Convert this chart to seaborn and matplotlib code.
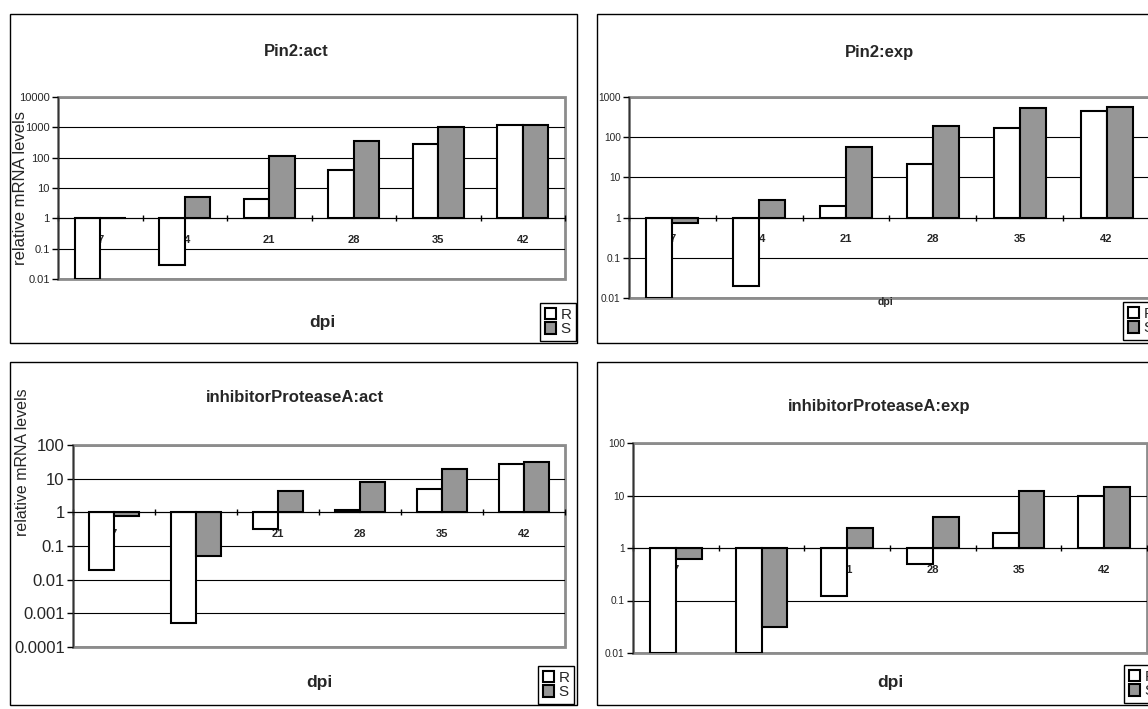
import numpy as np
import pandas as pd
import matplotlib
matplotlib.use("Agg")
import matplotlib.pyplot as plt
import matplotlib.ticker as mticker
from matplotlib.patches import Rectangle, Patch
import seaborn as sns

# data (relative mRNA levels, log scale, baseline 1)
dpi_days = [7, 14, 21, 28, 35, 42]
lines = ["R", "S"]

pin2_act_R = [0.01, 0.03, 4.5, 38, 280, 1150]
pin2_act_S = [1, 5, 110, 360, 1050, 1150]

pin2_exp_R = [0.01, 0.02, 1.9, 21, 170, 450]
pin2_exp_S = [0.75, 2.8, 56, 187, 525, 550]

ipa_act_R = [0.02, 0.0005, 0.32, 1.15, 4.9, 27]
ipa_act_S = [0.8, 0.052, 4.4, 7.8, 19, 31]

ipa_exp_R = [0.01, 0.01, 0.12, 0.49, 1.9, 10]
ipa_exp_S = [0.61, 0.031, 2.4, 3.85, 12, 14.5]

titles = ["Pin2:act", "Pin2:exp", "inhibitorProteaseA:act", "inhibitorProteaseA:exp"]
palette = {"R": "white", "S": "#969696"}

W, H = 1148, 709


def fx(x):
    return x / W


def fy(y):
    return 1 - y / H


sns.set_style("white")
plt.rcParams["font.family"] = ["Liberation Sans", "DejaVu Sans"]

fig = plt.figure(figsize=(W / 100, H / 100), dpi=100)

# pixel layout of each chart (box, plot area, text spots)
panels = [
    dict(title=titles[0], R=pin2_act_R, S=pin2_act_S, box=(10, 14, 577, 343),
         plot=(58, 97, 565, 279), ylim=(0.01, 1e4), ytick_fs=8,
         title_xy=(296, 52), xlab=(322, 323, 12.5), legend_xy=(540, 303),
         ylab=(21, 188, 12)),
    dict(title=titles[1], R=pin2_exp_R, S=pin2_exp_S, box=(597, 14, 1166, 343),
         plot=(629, 97, 1150, 298), ylim=(0.01, 1e3), ytick_fs=7.3,
         title_xy=(879, 52), xlab=(885, 302, 7.5), legend_xy=(1123, 302),
         ylab=None),
    dict(title=titles[2], R=ipa_act_R, S=ipa_act_S, box=(10, 362, 577, 705),
         plot=(73, 445, 565, 647), ylim=(1e-4, 100), ytick_fs=12,
         title_xy=(295, 398), xlab=(319, 683, 12.5), legend_xy=(538, 666),
         ylab=(23, 462, 11.5)),
    dict(title=titles[3], R=ipa_exp_R, S=ipa_exp_S, box=(597, 362, 1166, 705),
         plot=(633, 443, 1147, 653), ylim=(0.01, 100), ytick_fs=7.3,
         title_xy=(879, 406), xlab=(890, 682, 12.5), legend_xy=(1124, 665),
         ylab=None),
]


def fmt_level(v, pos):
    dec = max(0, -int(np.floor(np.log10(v) + 1e-9)))
    return f"{v:.{dec}f}"


def draw_panel(p):
    x0, y0, x1, y1 = p["box"]
    fig.add_artist(Rectangle((fx(x0), fy(y1)), (x1 - x0) / W, (y1 - y0) / H,
                             transform=fig.transFigure, fill=False,
                             edgecolor="black", linewidth=1))

    px0, py0, px1, py1 = p["plot"]
    ax = fig.add_axes([fx(px0), fy(py1), (px1 - px0) / W, (py1 - py0) / H])

    df = pd.DataFrame({
        "dpi": dpi_days * 2,
        "line": ["R"] * len(dpi_days) + ["S"] * len(dpi_days),
        "level": p["R"] + p["S"],
    })
    df["height"] = df["level"] - 1  # bars grow from the value 1

    sns.barplot(data=df, x="dpi", y="height", hue="line", palette=palette,
                width=0.6, bottom=1, edgecolor="black", linewidth=1.5,
                errorbar=None, legend=False, ax=ax)

    ax.set_yscale("log")
    ax.set_ylim(*p["ylim"])
    ax.set_xlim(-0.5, 5.5)
    ax.set_xlabel("")
    ax.set_ylabel("")

    # category axis crosses at 1 (set before labels: this resets the ticks)
    ax.spines["bottom"].set_position(("data", 1))
    ax.spines["bottom"].set_color("black")
    ax.spines["left"].set_color("#333333")
    ax.spines["left"].set_linewidth(1)
    ax.spines["top"].set_visible(False)
    ax.spines["right"].set_visible(False)
    ax.patch.set_edgecolor("#8c8c8c")
    ax.patch.set_linewidth(2)

    ax.yaxis.set_major_locator(mticker.LogLocator(base=10, numticks=20))
    ax.yaxis.set_minor_locator(mticker.NullLocator())
    ax.yaxis.set_major_formatter(mticker.FuncFormatter(fmt_level))
    ax.tick_params(axis="y", length=4, width=1, direction="out", color="black",
                   labelsize=p["ytick_fs"], pad=2, left=True)

    ax.set_xticks(range(len(dpi_days)))
    ax.set_xticklabels([str(d) for d in dpi_days], fontweight="bold", fontsize=8)
    ax.set_xticks(np.arange(-0.5, len(dpi_days)), minor=True)
    ax.tick_params(axis="x", which="major", length=0, pad=12, bottom=True)
    ax.tick_params(axis="x", which="minor", length=5, width=1, direction="inout",
                   color="black", bottom=True)

    ax.yaxis.grid(True, which="major", color="black", linewidth=0.8)
    ax.xaxis.grid(False)
    ax.set_axisbelow(True)
    # gridlines on the plot-area border stay grey like the frame
    lo, hi = p["ylim"]
    for loc, tick in zip(ax.yaxis.get_majorticklocs(), ax.yaxis.get_major_ticks()):
        if np.isclose(loc, lo) or np.isclose(loc, hi):
            tick.gridline.set_color("#8c8c8c")
            tick.gridline.set_linewidth(2)

    tx, ty = p["title_xy"]
    fig.text(fx(tx), fy(ty), p["title"], ha="center", va="center",
             fontsize=12, fontweight="bold")
    lx, ly, lfs = p["xlab"]
    fig.text(fx(lx), fy(ly), "dpi", ha="center", va="center",
             fontsize=lfs, fontweight="bold")
    if p["ylab"] is not None:
        yx, yy, yfs = p["ylab"]
        fig.text(fx(yx), fy(yy), "relative mRNA levels", rotation=90,
                 ha="center", va="center", fontsize=yfs)

    handles = [Patch(facecolor=palette[l], edgecolor="black", linewidth=1.5, label=l)
               for l in lines]
    lgx, lgy = p["legend_xy"]
    leg = ax.legend(handles=handles, loc="upper left",
                    bbox_to_anchor=(fx(lgx), fy(lgy)), bbox_transform=fig.transFigure,
                    frameon=True, fancybox=False, framealpha=1, edgecolor="black",
                    borderaxespad=0, borderpad=0.3, handlelength=0.75,
                    handleheight=0.75, handletextpad=0.3, labelspacing=0.05,
                    fontsize=11)
    leg.get_frame().set_linewidth(1)
    return ax


for p in panels:
    draw_panel(p)

fig.savefig("out.png", dpi=100)
